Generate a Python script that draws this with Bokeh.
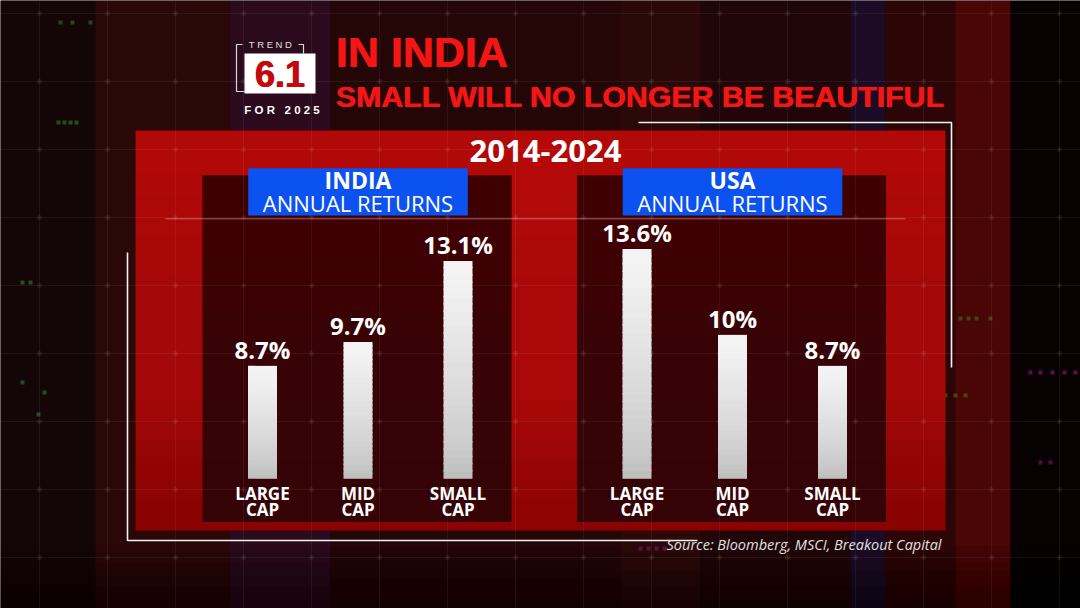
import numpy as np
from bokeh.plotting import figure
from bokeh.models import Range1d, ColumnDataSource
from bokeh.core.properties import value
from bokeh.embed import file_html
from bokeh.resources import INLINE

# ---------------- data ----------------
period = "2014-2024"
countries = ["INDIA", "USA"]
subtitle = "ANNUAL RETURNS"
categories = ["LARGE CAP", "MID CAP", "SMALL CAP"]
india_returns = [8.7, 9.7, 13.1]
usa_returns = [13.6, 10.0, 8.7]
title_line1 = "IN INDIA"
title_line2 = "SMALL WILL NO LONGER BE BEAUTIFUL"
trend_no = "6.1"
trend_top = "TREND"
trend_bottom = "FOR 2025"
source_text = "Source: Bloomberg, MSCI, Breakout Capital"

# ---------------- layout ----------------
W, H = 1080, 608
BASE = 3.96          # value drawn at the bars' baseline
BASE_Y = 478.3       # pixel row of the baseline
PX_PER = 23.83       # pixels per percentage point
pct_start = BASE - (H - BASE_Y) / PX_PER
pct_end = BASE + BASE_Y / PX_PER
group_centers = [357.5, 732.0]
slot_offsets = [-95.5, 0.0, 100.0]
BAR_W = 29

OS = value("Open Sans")
LIB = value("Liberation Sans")
K_OS = 0.388   # svg text is centred on the em box; shift to put the baseline where wanted
K_LIB = 0.347


def by(baseline, size, k):
    return baseline - k * size


p = figure(width=W, height=H, x_range=Range1d(0, W), y_range=Range1d(H, 0),
           output_backend="svg", toolbar_location=None, min_border=0,
           background_fill_color="#140404", border_fill_color="#140404")
p.extra_y_ranges = {"pct": Range1d(pct_start, pct_end)}
p.xaxis.visible = False
p.yaxis.visible = False
p.xgrid.grid_line_color = None
p.ygrid.grid_line_color = None
p.outline_line_color = None

# ---- background bands ----
bands = [
    (0, 95, "#140606"), (95, 230, "#2a0808"), (230, 330, "#2a0a1c"),
    (330, 620, "#240607"), (620, 700, "#2c0909"), (700, 850, "#200608"),
    (850, 885, "#1c0b24"), (885, 955, "#2c0606"), (955, 1010, "#4a0505"),
    (1010, 1080, "#070101"),
]
p.quad(left=[b[0] for b in bands], right=[b[1] for b in bands], top=[0] * len(bands),
       bottom=[H] * len(bands), fill_color=[b[2] for b in bands], line_color=None)
# bottom vignette
for i in range(8):
    p.quad(left=0, right=W, top=545 + i * 8, bottom=H, fill_color="#000000",
           fill_alpha=0.06, line_color=None)

# faint decorative speckles of the backdrop
sp_x = [58, 64, 70, 76, 22, 30, 22, 44, 38, 1030, 1040, 1052, 1064, 1075, 960, 968, 976, 990,
        935, 945, 955, 965, 640, 648, 656, 664, 60, 72, 90, 1040, 1050]
sp_y = [122, 122, 122, 122, 282, 282, 382, 392, 414, 372, 372, 372, 372, 372, 318, 318, 318, 318,
        395, 395, 395, 395, 548, 548, 548, 548, 22, 22, 22, 462, 462]
sp_c = ["#2f8a2a"] * 4 + ["#2f8a2a"] * 5 + ["#a01890"] * 5 + ["#3a7a20"] * 4 + ["#4a7a20"] * 4 + \
       ["#8a1880"] * 4 + ["#3a7a20"] * 3 + ["#8a1880"] * 2
p.scatter(sp_x, sp_y, size=4, marker="square", fill_color=sp_c, fill_alpha=0.55, line_color=None)

# ---- big red panel ----
p.quad(left=135, right=945, top=130, bottom=530, fill_color="#a50808", line_color=None)
for i in range(6):
    p.quad(left=135, right=945, top=130, bottom=175 + i * 20, fill_color="#e01818",
           fill_alpha=0.04, line_color=None)
p.quad(left=510, right=576, top=130, bottom=530, fill_color="#d81414", fill_alpha=0.12, line_color=None)
for i in range(6):
    p.quad(left=135, right=945, top=400 + i * 20, bottom=530, fill_color="#300000",
           fill_alpha=0.04, line_color=None)

# ---- sub panels ----
sub_l = [c - 155.5 for c in group_centers]
sub_r = [c + 153.5 for c in group_centers]
p.quad(left=sub_l, right=sub_r, top=[175, 175], bottom=[521.5, 521.5],
       fill_color="#2e0306", fill_alpha=0.93, line_color=None)
for i in range(5):
    p.quad(left=sub_l, right=sub_r, top=[175, 175], bottom=[220 + i * 30] * 2,
           fill_color="#5a0609", fill_alpha=0.05, line_color=None)

# ---- faint grid ----
gx = np.arange(39, W, 68)
gy = np.arange(13, H, 68)
p.segment(x0=gx, y0=[0] * len(gx), x1=gx, y1=[H] * len(gx), line_color="#ffffff", line_alpha=0.06, line_width=1)
p.segment(x0=[0] * len(gy), y0=gy, x1=[W] * len(gy), y1=gy, line_color="#ffffff", line_alpha=0.06, line_width=1)
GX, GY = np.meshgrid(gx, gy)
p.scatter(GX.ravel(), GY.ravel(), size=5, fill_color="#ffffff", fill_alpha=0.07, line_color=None)

# ---- separator line ----
p.segment(x0=[165], y0=[218.3], x1=[905], y1=[218.3], line_color="#f0b0b0", line_alpha=0.55, line_width=1)

# ---- blue header boxes ----
p.quad(left=[c - 109.8 for c in group_centers], right=[c + 109.8 for c in group_centers],
       top=[167.7, 167.7], bottom=[215, 215], fill_color="#0c52f0", line_color=None)
p.text(x=group_centers, y=[by(188.3, 23, K_OS)] * 2, text=countries, text_font=OS, text_font_style="bold",
       text_font_size="23px", text_color="white", text_align="center", text_baseline="alphabetic")
p.text(x=group_centers, y=[by(210.7, 22, K_OS)] * 2, text=[subtitle, subtitle], text_font=OS,
       text_font_size="22px", text_color="white", text_align="center", text_baseline="alphabetic")

# ---- period heading ----
p.text(x=[545], y=[by(162.3, 31, K_OS)], text=[period], text_font=OS, text_font_style="bold",
       text_font_size="31px", text_color="white", text_align="center", text_baseline="alphabetic")

# ---- bars (gradient made of thin slices) ----
bar_x = []
bar_v = []
for gc, vals in zip(group_centers, [india_returns, usa_returns]):
    for off, v in zip(slot_offsets, vals):
        bar_x.append(gc + off)
        bar_v.append(v)

N = 30
seg = dict(x=[], bottom=[], top=[], color=[])
c_low = np.array([0xbc, 0xbc, 0xbc])
c_high = np.array([0xf3, 0xf3, 0xf3])
for x, v in zip(bar_x, bar_v):
    step = (v - BASE) / N
    for i in range(N):
        t = (i + 0.5) / N
        c = c_low + (c_high - c_low) * min(1.0, t ** 0.7 * 1.05)
        seg["x"].append(x)
        seg["bottom"].append(BASE + step * i)
        seg["top"].append(BASE + step * (i + 1) + (0.06 if i < N - 1 else 0.0))
        seg["color"].append("#%02x%02x%02x" % tuple(int(round(k)) for k in c))
p.vbar(x="x", bottom="bottom", top="top", width=BAR_W, fill_color="color", line_color=None,
       source=ColumnDataSource(seg), y_range_name="pct")

# value labels
p.text(x=bar_x, y=bar_v, text=[f"{v:g}%" for v in bar_v], y_range_name="pct",
       y_offset=-(7 + K_OS * 24), text_font=OS, text_font_style="bold", text_font_size="24px",
       text_color="white", text_align="center", text_baseline="alphabetic")

# category labels
line1 = [categories[i % 3].split(" ")[0] for i in range(6)]
line2 = [categories[i % 3].split(" ")[1] for i in range(6)]
p.text(x=bar_x, y=[by(499.3, 17, K_OS)] * 6, text=line1, text_font=OS, text_font_style="bold",
       text_font_size="17px", text_color="white", text_align="center", text_baseline="alphabetic")
p.text(x=bar_x, y=[by(515.3, 17, K_OS)] * 6, text=line2, text_font=OS, text_font_style="bold",
       text_font_size="17px", text_color="white", text_align="center", text_baseline="alphabetic")

# ---- white frame lines ----
p.line(x=[127, 127, 697], y=[252, 540, 540], line_color="#f2f2f2", line_width=1.6)
p.line(x=[638, 951, 951], y=[122, 122, 367], line_color="#f2f2f2", line_width=1.6)

# ---- source ----
p.text(x=[941], y=[by(549.5, 14.5, K_OS)], text=[source_text], text_font=OS, text_font_style="italic",
       text_font_size="14.5px", text_color="#e0e0e0", text_align="right", text_baseline="alphabetic")

# ---- trend badge ----
p.line(x=[242, 236, 236, 244], y=[44, 44, 91, 91], line_color="#d8d8d8", line_width=1.2)
p.line(x=[298, 303, 303], y=[44, 44, 53], line_color="#d8d8d8", line_width=1.2)
p.quad(left=244, right=315, top=53, bottom=93, fill_color="#ffffff", line_color=None)
for dx in (-0.5, 0.5):
    p.text(x=[279.5 + dx], y=[by(86, 36, K_LIB)], text=[trend_no], text_font=LIB, text_font_style="bold",
           text_font_size="36px", text_color="#c20a0a", text_align="center", text_baseline="alphabetic")
p.text(x=[270], y=[by(47.5, 9.5, K_LIB)], text=[" ".join(trend_top)], text_font=LIB, text_font_size="9.5px",
       text_color="#e0e0e0", text_align="center", text_baseline="alphabetic")
badge_bottom = "\u00a0\u00a0\u00a0".join(" ".join(w) for w in trend_bottom.split(" "))
p.text(x=[281.5], y=[by(113.5, 11.5, K_LIB)], text=[badge_bottom],
       text_font=LIB, text_font_style="bold", text_font_size="11.5px",
       text_color="#ffffff", text_align="center", text_baseline="alphabetic")

# ---- title (drawn twice with a tiny shift for a heavier weight) ----
for dx in (0.0, 0.8):
    p.text(x=[335 + dx], y=[by(66.7, 43, K_LIB)], text=[title_line1], text_font=LIB, text_font_style="bold",
           text_font_size="43px", text_color="#f41515", text_align="left", text_baseline="alphabetic")
    p.text(x=[335 + dx], y=[by(106.7, 30.3, K_LIB)], text=[title_line2], text_font=LIB,
           text_font_style="bold", text_font_size="30.3px", text_color="#f41515", text_align="left",
           text_baseline="alphabetic")

open("out.html", "w").write(file_html(p, INLINE))
